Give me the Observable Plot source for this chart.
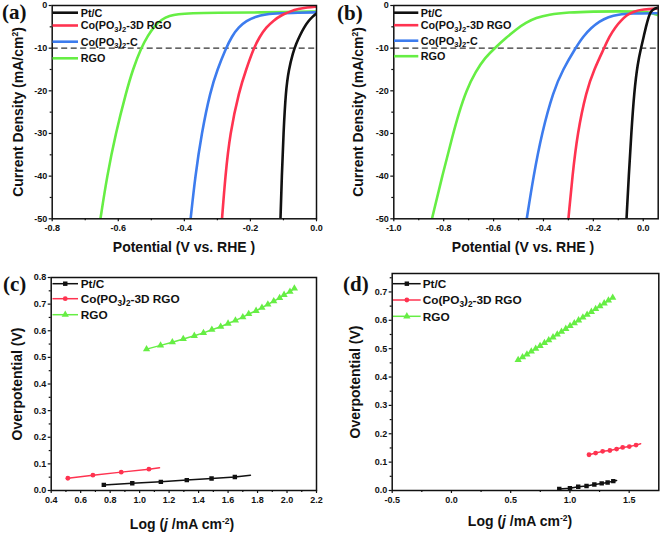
<!DOCTYPE html>
<html><head><meta charset="utf-8">
<script src="https://cdn.jsdelivr.net/npm/d3@7"></script>
<script src="https://cdn.jsdelivr.net/npm/@observablehq/plot@0.6"></script>
<style>
body{margin:0;background:#fff;}
#root{position:relative;width:661px;height:536px;overflow:hidden;font-family:"Liberation Sans",Arial,sans-serif;color:#111;}
.lbl{position:absolute;font-weight:bold;font-size:14px;white-space:nowrap;line-height:1;}
.ylbl{transform:translate(-50%,-50%) rotate(-90deg);}
.xlbl{transform:translate(-50%,-50%);}
.lbl sup{font-size:8.5px;vertical-align:5px;line-height:0;}
.letter{position:absolute;font-family:"Liberation Serif","Times New Roman",serif;font-weight:bold;font-size:21px;line-height:1;}
</style></head><body><div id="root"></div><script>
// ---------- Colors ----------
const cBlack = "#111111", cRed = "#ff3350", cBlue = "#3d7cee", cGreen = "#66ee44";

// ---------- Panel (a) LSV ----------
const aPtE  = [-0.109,-0.105,-0.100,-0.093,-0.084,-0.071,-0.062,-0.050,-0.038,-0.025,-0.012,0.0];
const aPtJ  = [-50,-40,-30,-20,-15,-11,-9,-7,-5.2,-3.7,-2.6,-1.9];
const aCoE  = [-0.286,-0.276,-0.262,-0.234,-0.213,-0.190,-0.172,-0.152,-0.130,-0.105,-0.080,-0.055,-0.028,0.0];
const aCoJ  = [-50,-40,-30,-20,-15,-10,-7.3,-5.1,-3.5,-2.2,-1.4,-0.8,-0.45,-0.25];
const aCCE  = [-0.381,-0.367,-0.348,-0.321,-0.300,-0.274,-0.256,-0.236,-0.212,-0.185,-0.155,-0.110,-0.050,0.0];
const aCCJ  = [-50,-40,-30,-20,-15,-10,-7.2,-5.1,-3.6,-2.6,-2.05,-1.8,-1.7,-1.6];
const aRgoE = [-0.654,-0.634,-0.608,-0.575,-0.556,-0.531,-0.510,-0.490,-0.468,-0.445,-0.420,-0.380,-0.300,-0.200,-0.100,0.0];
const aRgoJ = [-50,-40,-30,-20,-15,-10,-7,-4.8,-3.2,-2.4,-2.0,-1.8,-1.7,-1.65,-1.55,-1.4];

// ---------- Panel (b) LSV ----------
const bPtE  = [-0.067,-0.058,-0.048,-0.036,-0.022,-0.009,0.003,0.013,0.022,0.030,0.045,0.060];
const bPtJ  = [-50,-40,-30,-20,-13.5,-10,-7,-4.5,-2.6,-1.4,-0.7,-0.5];
const bCoE  = [-0.300,-0.284,-0.264,-0.228,-0.197,-0.157,-0.135,-0.112,-0.090,-0.065,-0.040,0.0,0.060];
const bCoJ  = [-50,-40,-30,-20,-15,-10,-7.2,-5.1,-3.6,-2.2,-1.4,-0.9,-0.7];
const bCCE  = [-0.467,-0.440,-0.407,-0.360,-0.322,-0.272,-0.240,-0.208,-0.175,-0.140,-0.100,-0.050,0.060];
const bCCJ  = [-50,-40,-30,-20,-15,-10,-7.2,-5.2,-3.7,-2.7,-2.1,-1.85,-1.8];
const bRgoE = [-0.847,-0.806,-0.762,-0.738,-0.710,-0.672,-0.634,-0.592,-0.550,-0.510,-0.470,-0.430,-0.380,-0.300,-0.200,-0.100,0.0,0.030,0.060];
const bRgoJ = [-50,-40,-30,-25,-20,-15.5,-12.2,-9.8,-7.6,-5.6,-4.0,-2.9,-2.1,-1.6,-1.4,-1.35,-1.4,-1.7,-2.3];

// ---------- Panel (c) Tafel ----------
const cPtL  = [0.757,0.950,1.144,1.320,1.488,1.646];
const cPtY  = [0.021,0.0275,0.0325,0.039,0.045,0.051];
const cPtEndL = 1.752, cPtEndY = 0.0575;
const cCoL  = [0.513,0.683,0.875,1.063];
const cCoY  = [0.046,0.0575,0.069,0.080];
const cCoEndL = 1.135, cCoEndY = 0.085;
const cRgoL = [1.047,1.142,1.222,1.296,1.371,1.433,1.490,1.550,1.600,1.650,1.700,1.740,1.790,1.830,1.870,1.910,1.950,1.980,2.020,2.050];
const cRgoY = [0.531,0.545,0.557,0.569,0.581,0.592,0.604,0.615,0.627,0.639,0.651,0.663,0.675,0.687,0.699,0.711,0.723,0.735,0.747,0.759];

// ---------- Panel (d) Tafel ----------
const dPtL  = [0.910,1.000,1.070,1.140,1.206,1.268,1.318,1.366];
const dPtY  = [0.005,0.008,0.013,0.016,0.021,0.025,0.028,0.033];
const dPtEndL = 1.394, dPtEndY = 0.035;
const dCoL  = [1.161,1.217,1.276,1.337,1.394,1.445,1.501,1.558];
const dCoY  = [0.126,0.132,0.138,0.141,0.146,0.152,0.155,0.160];
const dCoEndL = 1.597, dCoEndY = 0.165;
const dRgoL = [0.563,0.600,0.637,0.674,0.711,0.748,0.785,0.821,0.857,0.893,0.929,0.965,1.001,1.037,1.073,1.109,1.145,1.181,1.217,1.253,1.289,1.325,1.361];
const dRgoY = [0.46,0.47,0.48,0.49,0.50,0.51,0.52,0.53,0.54,0.55,0.56,0.57,0.58,0.59,0.60,0.61,0.62,0.63,0.64,0.65,0.66,0.67,0.68];

// ---------- Ticks ----------
const aXTicks = [-0.8,-0.6,-0.4,-0.2,0.0], aXMinor = [-0.7,-0.5,-0.3,-0.1];
const abYTicks = [0,-10,-20,-30,-40,-50], abYMinor = [-5,-15,-25,-35,-45];
const bXTicks = [-1.0,-0.8,-0.6,-0.4,-0.2,0.0], bXMinor = [-0.9,-0.7,-0.5,-0.3,-0.1];
const cXTicks = [0.4,0.6,0.8,1.0,1.2,1.4,1.6,1.8,2.0,2.2], cXMinor = [0.5,0.7,0.9,1.1,1.3,1.5,1.7,1.9,2.1];
const cYTicks = [0,0.1,0.2,0.3,0.4,0.5,0.6,0.7,0.8], cYMinor = [0.05,0.15,0.25,0.35,0.45,0.55,0.65,0.75];
const dXTicks = [-0.5,0.0,0.5,1.0,1.5], dXMinor = [-0.25,0.25,0.75,1.25];
const dYTicks = [0,0.1,0.2,0.3,0.4,0.5,0.6,0.7], dYMinor = [0.05,0.15,0.25,0.35,0.45,0.55,0.65,0.75];

// ---------- Legend labels ----------
const lsvNames = ["Pt/C","Co(PO3)2-3D RGO","Co(PO3)2-C","RGO"];
const tafelNames = ["Pt/C","Co(PO3)2-3D RGO","RGO"];

const zipXY = (xs, ys) => xs.map((x, i) => ({x, y: ys[i]}));
const root = document.getElementById("root");
const f1 = d => d.toFixed(1);
const fInt = d => String(d);

function panel(o) {
  const svg = Plot.plot({
    width: o.w, height: o.h,
    marginLeft: o.ml, marginRight: o.mr, marginTop: o.mt, marginBottom: o.mb,
    style: {fontFamily: '"Liberation Sans",Arial,sans-serif', fontSize: "9px", fontWeight: "bold", color: "#111", background: "transparent", overflow: "visible"},
    x: {domain: o.xd},
    y: {domain: o.yd},
    marks: [
      ...o.marks,
      Plot.axisX(o.xt, {tickSize: 3, tickPadding: 3, tickFormat: o.xf, label: null, strokeWidth: 1.2}),
      Plot.axisX(o.xm, {tickSize: 2, tickFormat: () => "", label: null, strokeWidth: 1.2}),
      Plot.axisY(o.yt, {tickSize: 3, tickPadding: 2, tickFormat: o.yf, label: null, strokeWidth: 1.2}),
      Plot.axisY(o.ym, {tickSize: 2, tickFormat: () => "", label: null, strokeWidth: 1.2}),
      Plot.frame({stroke: "#111", strokeWidth: 1.5})
    ]
  });
  svg.style.position = "absolute";
  svg.style.left = o.left + "px";
  svg.style.top = o.top + "px";
  root.append(svg);
}

function lsvMarks(series) {
  return [
    Plot.ruleY([-10], {stroke: "#333", strokeWidth: 1.3, strokeDasharray: "6,3.5"}),
    ...series.map(s => Plot.line(s.data, {x: "x", y: "y", stroke: s.c, strokeWidth: 2.6, curve: "basis", clip: true}))
  ];
}

function tafelMarks(series) {
  const out = [];
  for (const s of series) {
    out.push(Plot.line(s.line, {x: "x", y: "y", stroke: s.c, strokeWidth: 1.5, clip: true}));
    out.push(Plot.dot(s.pts, {x: "x", y: "y", fill: s.c, stroke: "none", symbol: s.sym, r: s.r, clip: true}));
  }
  return out;
}

// (a)
panel({left: 0, top: 0, w: 330, h: 268, ml: 51.7, mr: 14, mt: 5, mb: 49.7,
  xd: [-0.8, 0.0], yd: [-50, 0], xt: aXTicks, xm: aXMinor, yt: abYTicks, ym: abYMinor, xf: f1, yf: fInt,
  marks: lsvMarks([
    {data: zipXY(aRgoE, aRgoJ), c: cGreen},
    {data: zipXY(aCCE, aCCJ), c: cBlue},
    {data: zipXY(aCoE, aCoJ), c: cRed},
    {data: zipXY(aPtE, aPtJ), c: cBlack}
  ])});

// (b)
panel({left: 330, top: 0, w: 331, h: 268, ml: 63.3, mr: 3.3, mt: 5, mb: 49.7,
  xd: [-1.0, 0.06], yd: [-50, 0], xt: bXTicks, xm: bXMinor, yt: abYTicks, ym: abYMinor, xf: f1, yf: fInt,
  marks: lsvMarks([
    {data: zipXY(bRgoE, bRgoJ), c: cGreen},
    {data: zipXY(bCCE, bCCJ), c: cBlue},
    {data: zipXY(bCoE, bCoJ), c: cRed},
    {data: zipXY(bPtE, bPtJ), c: cBlack}
  ])});

// (c)
panel({left: 0, top: 268, w: 330, h: 268, ml: 50.7, mr: 14, mt: 9, mb: 46,
  xd: [0.4, 2.2], yd: [0, 0.8], xt: cXTicks, xm: cXMinor, yt: cYTicks, ym: cYMinor, xf: f1, yf: f1,
  marks: tafelMarks([
    {line: zipXY(cRgoL, cRgoY), pts: zipXY(cRgoL, cRgoY), c: cGreen, sym: "triangle", r: 2.7},
    {line: zipXY([...cCoL, cCoEndL], [...cCoY, cCoEndY]), pts: zipXY(cCoL, cCoY), c: cRed, sym: "circle", r: 2.4},
    {line: zipXY([...cPtL, cPtEndL], [...cPtY, cPtEndY]), pts: zipXY(cPtL, cPtY), c: cBlack, sym: "square", r: 2.5}
  ])});

// (d)
panel({left: 330, top: 268, w: 331, h: 268, ml: 61.7, mr: 2.7, mt: 5, mb: 46,
  xd: [-0.5, 1.75], yd: [0, 0.765], xt: dXTicks, xm: dXMinor, yt: dYTicks, ym: dYMinor, xf: f1, yf: f1,
  marks: tafelMarks([
    {line: zipXY(dRgoL, dRgoY), pts: zipXY(dRgoL, dRgoY), c: cGreen, sym: "triangle", r: 2.7},
    {line: zipXY([...dCoL, dCoEndL], [...dCoY, dCoEndY]), pts: zipXY(dCoL, dCoY), c: cRed, sym: "circle", r: 2.4},
    {line: zipXY([...dPtL, dPtEndL], [...dPtY, dPtEndY]), pts: zipXY(dPtL, dPtY), c: cBlack, sym: "square", r: 2.5}
  ])});

// ---------- Axis titles & panel letters (HTML text) ----------
function addLbl(html, x, y, cls) {
  const d = document.createElement("div");
  d.className = "lbl " + cls;
  d.style.left = x + "px"; d.style.top = y + "px";
  d.innerHTML = html;
  root.append(d);
}
const yLsv = "Current Density (mA/cm<sup>2</sup>)";
const xLsv = "Potential (V vs. RHE )";
const yTaf = "Overpotential (V)";
const xTaf = "Log (<i>j</i> /mA cm<sup>-2</sup>)";
addLbl(yLsv, 18, 111.5, "ylbl");
addLbl(xLsv, 184, 247, "xlbl");
addLbl(yLsv, 358, 111.5, "ylbl");
addLbl(xLsv, 523, 247, "xlbl");
addLbl(yTaf, 17, 383.5, "ylbl");
addLbl(xTaf, 182, 524, "xlbl");
addLbl(yTaf, 355, 381.5, "ylbl");
addLbl(xTaf, 520, 521, "xlbl");

function addLetter(t, x, y) {
  const d = document.createElement("div");
  d.className = "letter"; d.textContent = t;
  d.style.left = x + "px"; d.style.top = y + "px";
  root.append(d);
}
addLetter("(a)", 2, 2); addLetter("(b)", 337, 3); addLetter("(c)", 3, 274); addLetter("(d)", 343, 274);

// ---------- Legends (SVG overlay) ----------
const ov = d3.select(root).append("svg")
  .attr("width", 661).attr("height", 536)
  .style("position", "absolute").style("left", 0).style("top", 0).style("pointer-events", "none")
  .attr("font-family", '"Liberation Sans",Arial,sans-serif').attr("font-weight", "bold").attr("fill", "#111");

function legendText(g, name, x, y, fs) {
  const t = g.append("text").attr("x", x).attr("y", y + fs * 0.36).attr("font-size", fs);
  const m = name.match(/^Co\(PO3\)2(.*)$/);
  const sub = fs * 0.7, dy = fs * 0.25;
  if (m) {
    t.append("tspan").text("Co(PO");
    t.append("tspan").attr("dy", dy).attr("font-size", sub).text("3");
    t.append("tspan").attr("dy", -dy).text(")");
    t.append("tspan").attr("dy", dy).attr("font-size", sub).text("2");
    t.append("tspan").attr("dy", -dy).text(m[1]);
  } else t.text(name);
}

function lsvLegend(x0, x1, tx, rows) {
  const cols = [cBlack, cRed, cBlue, cGreen];
  lsvNames.forEach((n, i) => {
    ov.append("line").attr("x1", x0).attr("x2", x1).attr("y1", rows[i]).attr("y2", rows[i]).attr("stroke", cols[i]).attr("stroke-width", 2.6);
    legendText(ov, n, tx, rows[i], 10.8);
  });
}
lsvLegend(52.5, 78, 80.7, [12.7, 25.5, 41.7, 58.3]);
lsvLegend(394, 418.3, 420.7, [12.7, 25.2, 40.7, 56.2]);

const symPath = {
  square: d3.symbol(d3.symbolSquare, 2.5 * 2.5 * Math.PI)(),
  circle: d3.symbol(d3.symbolCircle, 2.4 * 2.4 * Math.PI)(),
  triangle: d3.symbol(d3.symbolTriangle, 2.7 * 2.7 * Math.PI)()
};
function tafelLegend(x0, x1, tx, rows) {
  const cols = [cBlack, cRed, cGreen], syms = ["square", "circle", "triangle"];
  tafelNames.forEach((n, i) => {
    ov.append("line").attr("x1", x0).attr("x2", x1).attr("y1", rows[i]).attr("y2", rows[i]).attr("stroke", cols[i]).attr("stroke-width", 1.5);
    ov.append("path").attr("d", symPath[syms[i]]).attr("transform", `translate(${(x0 + x1) / 2},${rows[i]})`).attr("fill", cols[i]);
    legendText(ov, n, tx, rows[i], 11.8);
  });
}
tafelLegend(52.5, 78, 80.7, [283.7, 298.7, 314.7]);
tafelLegend(393, 420.7, 422.7, [283.7, 300, 316.3]);
</script></body></html>
